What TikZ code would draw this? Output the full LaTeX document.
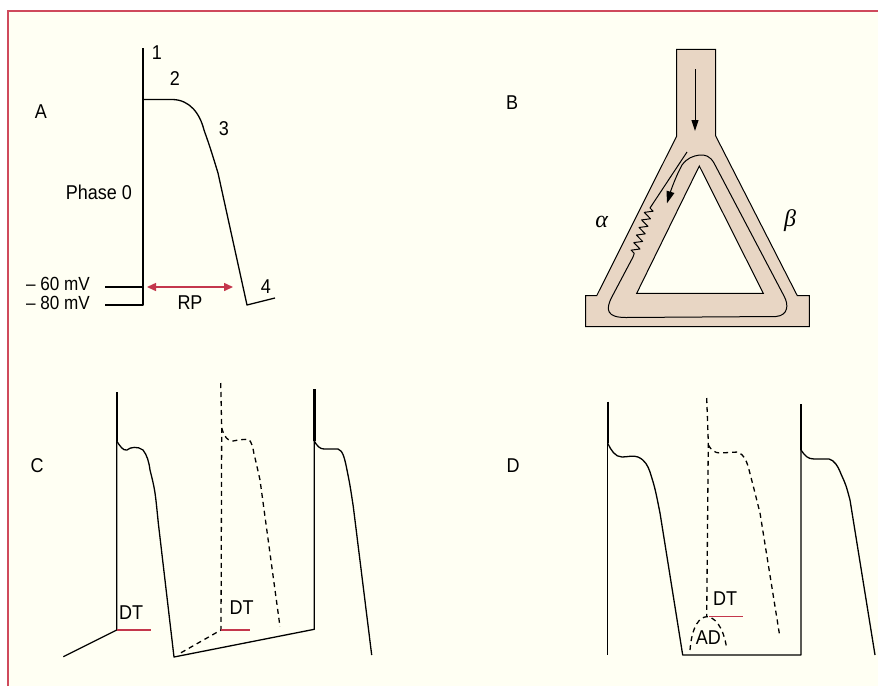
\documentclass[tikz,border=0pt]{standalone}
\usepackage{fontspec}
\setmainfont{Liberation Sans}[FakeStretch=0.9]
\newfontfamily\greekfont{Liberation Serif}
\usetikzlibrary{arrows.meta,decorations.pathmorphing}
\definecolor{cream}{HTML}{FFFFF3}
\definecolor{frame}{HTML}{CF4A5C}
\definecolor{tube}{HTML}{E8D6C4}
\definecolor{rpred}{HTML}{C4374C}
\begin{document}
\begin{tikzpicture}[x=1pt,y=-1pt,
  lbl/.style={inner sep=0pt,font=\fontsize{20}{22}\selectfont},
  mvlbl/.style={inner sep=0pt,font=\fontsize{19}{20}\selectfont,text height=9pt,text depth=0pt},
  glbl/.style={inner sep=0pt,font=\fontsize{24}{26}\selectfont\greekfont\itshape},
  ap/.style={line width=1.3pt,line join=round},
  apthick/.style={line width=2.4pt},
  dsh/.style={line width=1.3pt,dash pattern=on 5pt off 4pt},
  redline/.style={rpred,line width=1.5pt},
  tubewall/.style={draw=black,line width=1pt,fill=tube,even odd rule}]
\useasboundingbox (0,0) rectangle (878,686);
\fill[white] (0,0) rectangle (878,686);
\fill[cream] (8,11) rectangle (878,686);
\draw[frame,line width=2pt] (8,686) -- (8,11) -- (878,11);

% ---------------- Panel A
\node[lbl] (lA) at (41,112) {A};
\draw[apthick] (143,48) -- (143,100);
\draw[ap] (143,99.5) -- (143,305) -- (105,305);
\draw[ap] (105,287) -- (141.5,287);
\draw[ap] (143,99.5) -- (172,99.5) .. controls (190,99.5) and (200,114) .. (204,130)
  .. controls (210,147) .. (218,173) -- (247,305) -- (275,298);
\node[lbl] (n1) at (157,53) {1};
\node[lbl] (n2) at (175,79) {2};
\node[lbl] (n3) at (224,129) {3};
\node[lbl] (n4) at (266,287) {4};
\node[lbl] (ph0) at (99,192) {Phase 0};
\node[mvlbl] (m60) at (58,285.5) {– 60 mV};
\node[mvlbl] (m80) at (58,304.5) {– 80 mV};
\node[lbl] (rp) at (190,303) {RP};
\coordinate (rpL) at (147,287);
\coordinate (rpR) at (233,287);
\draw[redline,{Triangle[length=9pt,width=8pt]}-{Triangle[length=9pt,width=8pt]}] (rpL) -- (rpR);

% ---------------- Panel B
\node[lbl] (lB) at (512,103) {B};
\path[tubewall] (676.7,49.3) -- (715.7,49.3) -- (715.7,136) -- (797.3,295.7) -- (809.3,295.7)
  -- (809.3,326.7) -- (585.7,326.7) -- (585.7,295.7) -- (596.7,295.7) -- (676.7,136) -- cycle
  (699.3,166) -- (763.3,293.3) -- (636.7,293.3) -- cycle;
\coordinate (inTop) at (695,69);
\coordinate (inBot) at (695,131);
\draw[line width=1pt,-{Triangle[length=11pt,width=7pt]}] (inTop) -- (inBot);
\draw[line width=1pt,line join=round,-{Triangle[length=12pt,width=8pt]}]
  (687,152) -- (650,208)
  decorate[decoration={zigzag,segment length=8pt,amplitude=4pt}] {-- (633,257)}
  -- (612,296.7) .. controls (605,310) and (607,317.5) .. (626,317.5)
  -- (776,316.5) .. controls (788,315.5) and (789,305) .. (784,296)
  -- (714,163) .. controls (710,156) and (705,154.5) .. (699.5,155)
  .. controls (693,156) and (687,158) .. (682,165)
  .. controls (676,176) and (671,190) .. (667,203.3);
\node[glbl] (alpha) at (601.7,222) {α};
\node[glbl] (beta) at (790,221) {β};

% ---------------- Panel C
\node[lbl] (lC) at (37,466) {C};
\draw[apthick] (116.7,392) -- (116.7,441);
\draw[ap] (116.7,441) -- (116.7,630) -- (63.3,656.7);
\draw[ap] (116.7,441) .. controls (120,446) and (123,451) .. (127,450)
  .. controls (130,447) and (138,446) .. (143,450)
  .. controls (147,455) and (149,462) .. (150,470)
  .. controls (155,490) .. (158.3,523) -- (174,657) -- (314.3,629.3) -- (314.3,441);
\draw[apthick] (314.3,389) -- (314.3,441);
\draw[ap] (314.3,441) .. controls (317,446) and (320,449) .. (324,449) -- (338,449)
  .. controls (343,450) and (345,460) .. (347,470)
  .. controls (350,485) .. (353.3,506.7) -- (371.7,655);
\draw[dsh] (220.7,383) -- (221.7,428) -- (221,630) -- (180,653.3);
\draw[dsh] (221.7,428) .. controls (224,436) and (228,442) .. (233,441)
  .. controls (238,440) and (244,439) .. (249,439.5)
  .. controls (252,443) and (253,448) .. (254,454)
  .. controls (256,462) .. (260,480) -- (280,626.7);
\draw[redline] (116.7,630) -- (150.7,630);
\draw[redline] (221,630) -- (250,630);
\node[lbl] (dtC1) at (131,613) {DT};
\node[lbl] (dtC2) at (241.7,607.7) {DT};

% ---------------- Panel D
\node[lbl] (lD) at (513,466) {D};
\draw[apthick] (607.7,401.7) -- (607.7,443.3);
\draw[ap] (607.7,443.3) -- (607.7,655);
\draw[ap] (607.7,443.3) .. controls (611,450) and (615,457) .. (622,457)
  .. controls (628,457) and (633,455) .. (638,457)
  .. controls (645,460) and (648,466) .. (650,472)
  .. controls (655,488) .. (660,513) -- (682.7,655) -- (801,655) -- (801,450);
\draw[apthick] (801,404) -- (801,450);
\draw[ap] (801,450) .. controls (805,456) and (808,459) .. (814,459) -- (829,459)
  .. controls (834,460) and (838,466) .. (841,474)
  .. controls (846,485) .. (850,500) -- (875,655);
\draw[dsh] (706.7,398) -- (708.3,442) -- (706.7,616.7);
\draw[dsh] (708.3,445) .. controls (711,450) and (715,453) .. (720,453) -- (738,452)
  .. controls (744,455) and (746,460) .. (748,466)
  .. controls (753,485) .. (760,513) -- (779.3,633.3);
\draw[dsh] (690,650) .. controls (692,625) and (700,617) .. (706.7,616.7)
  .. controls (714,617) and (723,625) .. (726.7,648.3);
\draw[redline] (709.3,616.7) -- (742.7,616.7);
\node[lbl] (dtD) at (725,598.3) {DT};
\node[lbl] (adD) at (708.3,637.7) {AD};
\end{tikzpicture}
\end{document}
